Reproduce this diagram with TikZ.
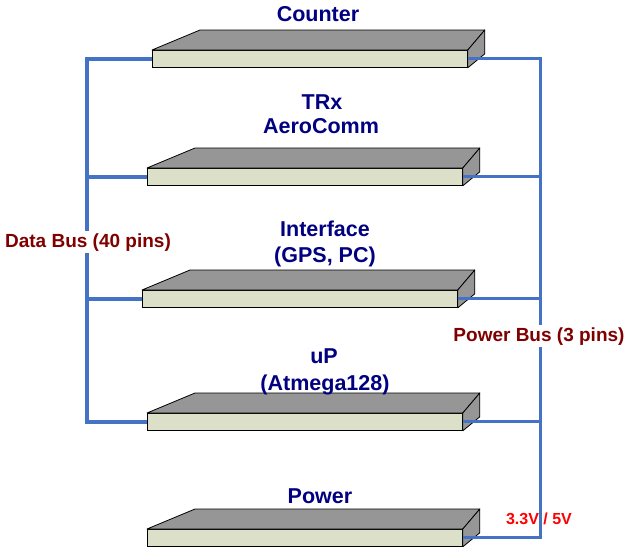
\documentclass[tikz,border=0pt]{standalone}
\usepackage{fontspec}
\setmainfont{Liberation Sans}
\usetikzlibrary{calc}
\definecolor{bdnavy}{RGB}{0,0,128}
\definecolor{bddarkred}{RGB}{128,0,0}
\definecolor{bdred}{RGB}{255,0,0}
\definecolor{bdbus}{RGB}{68,114,196}
\definecolor{bdface}{RGB}{221,224,200}
\definecolor{bdlid}{RGB}{150,150,150}

\tikzset{
  front/.style={draw=black, line width=0.8pt, fill=bdface, minimum width=315pt, minimum height=17pt, inner sep=0pt, anchor=north west},
  lid/.style={draw=black, line width=0.8pt, fill=bdlid, line join=round},
  title/.style={text=bdnavy, font=\fontsize{21.5}{24}\selectfont\bfseries, anchor=base, inner sep=0pt},
  buslabel/.style={text=bddarkred, font=\fontsize{19}{22}\selectfont\bfseries, anchor=base, fill=white, inner sep=2pt},
  databus/.style={draw=bdbus, line width=4pt, line join=miter},
  powerbus/.style={draw=bdbus, line width=3pt, line join=miter}
}

%Template for one board: name, x and y of the upper-left corner of the front face
\newcommand{\pcb}[3]{%
  \node[front] (#1) at (#2,#3) {};
  \filldraw[lid] (#1.north west)--++(48,-20)--($(#1.north east)+(17,-20)$)--(#1.north east)--cycle; %Top face
  \filldraw[lid] (#1.north east)--++(17,-20)--($(#1.south east)+(17,-14)$)--(#1.south east)--cycle; %Side face
}

\begin{document}
\begin{tikzpicture}[x=1pt,y=-1pt] %One unit is one pixel of the 626 by 546 picture, y runs downwards
\useasboundingbox (0,0) rectangle (626,546); %Fixes the margins
\coordinate (dbx) at (87,0); %Data bus runs along x=87
\coordinate (pbx) at (540,0); %Power bus runs along x=540

%Boards
\pcb{counter}{152}{50}
\pcb{trx}{147}{168}
\pcb{iface}{142}{290}
\pcb{up}{147}{413}
\pcb{power}{147}{529}

%Titles of the boards
\node[title] (tcounter) at (318,21) {Counter};
\node[title] (ttrx) at (322,109) {TRx};
\node[title] (taero) at (321,133) {AeroComm};
\node[title] (tiface) at (325,236) {Interface};
\node[title] (tgps) at (325,262) {(GPS, PC)};
\node[title] (tup) at (324,363) {uP};
\node[title] (tatmega) at (325,390) {(Atmega128)};
\node[title] (tpower) at (320,503) {Power};

%Data bus
\draw[databus] (counter.west)--(counter.west -| dbx)--(up.west -| dbx)--(up.west);
\draw[databus] (trx.west)--(trx.west -| dbx);
\draw[databus] (iface.west)--(iface.west -| dbx);

%Power bus
\draw[powerbus] (counter.east)--(counter.east -| pbx)--(power.east -| pbx)--(power.east);
\draw[powerbus] (trx.east)--(trx.east -| pbx);
\draw[powerbus] (iface.east)--(iface.east -| pbx);
\draw[powerbus] (up.east)--(up.east -| pbx);

%Bus labels
\node[buslabel] (ldata) at (88,247) {Data Bus (40 pins)};
\node[buslabel] (lpower) at (539,341) {Power Bus (3 pins)};
\node[text=bdred, font=\fontsize{16}{18}\selectfont\bfseries, anchor=base, inner sep=0pt] (lvolt) at (539,524) {3.3V / 5V};
\end{tikzpicture}
\end{document}
